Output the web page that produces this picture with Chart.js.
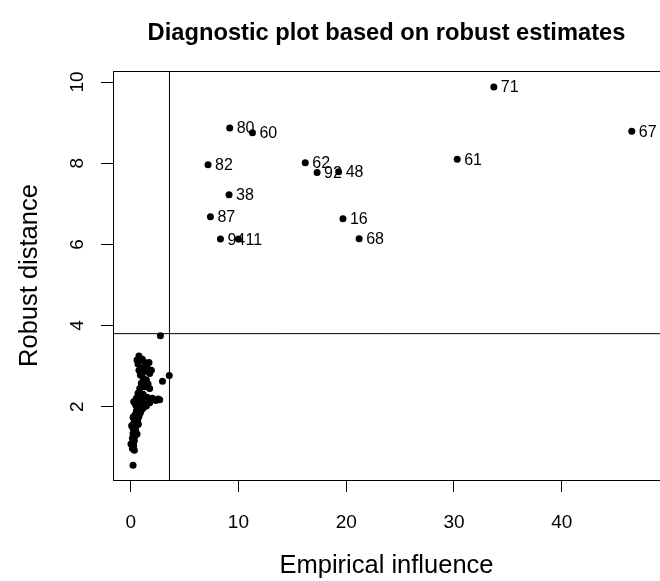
<!DOCTYPE html>
<html><head><meta charset="utf-8">
<script src="https://cdn.jsdelivr.net/npm/chart.js@4"></script>
<style>html,body{margin:0;padding:0;background:#fff;overflow:hidden}#wrap{width:660px;height:581px;position:relative;overflow:hidden}</style>
</head><body><div id="wrap"><canvas id="c" width="664" height="581"></canvas></div>
<script>
const FONT = "'Liberation Sans', Arial, Helvetica, sans-serif";

// Bulk of observations (empirical influence, robust distance)
const clusterInfluence = [0.77,1.08,0.68,1.30,1.70,0.99,1.52,1.92,1.21,1.76,0.77,
  3.58,2.95,
  1.15,1.46,0.99,1.61,1.30,0.84,1.76,0.68,1.15,0.53,0.99,1.52,2.01,2.54,2.32,1.76,1.30,0.84,0.46,
  0.68,1.15,0.53,0.90,0.40,0.77,0.34,0.65,0.28,0.53,0.22,0.46,0.22,0.40,0.16,0.34,0.22,0.28,0.16,
  0.22,
  0.59,1.39,0.90,1.30,0.77,0.28,2.69,1.46,0.99,0.59,0.22,0.71,0.09,0.59,0.03,0.34,
  2.76];
const clusterDistance = [3.25,3.17,3.05,3.09,3.09,2.95,2.97,2.90,2.86,2.82,2.90,
  2.77,2.63,
  2.70,2.66,2.58,2.56,2.49,2.45,2.45,2.33,2.31,2.21,2.18,2.23,2.21,2.19,2.15,2.10,2.08,2.07,2.04,
  1.98,1.96,1.90,1.85,1.80,1.76,1.69,1.66,1.59,1.53,1.47,1.41,1.34,1.28,1.22,1.16,1.10,1.03,0.97,
  0.56,
  3.15,3.00,2.78,2.62,2.26,2.12,2.17,2.02,1.92,1.82,1.74,1.57,1.53,1.33,1.08,0.93,
  3.75];

// Labelled outlying observations
const outlierIds       = ['71','67','61','62','92','48','16','68','80','60','82','38','87','94','11'];
const outlierInfluence = [33.7,46.5,30.3,16.2,17.3,19.3,19.7,21.2,9.19,11.3,7.18,9.13,7.40,8.33,10.0];
const outlierDistance  = [9.88,8.79,8.10,8.01,7.77,7.79,6.63,6.14,8.87,8.75,7.96,7.22,6.68,6.13,6.13];

const xTickValues = [0, 10, 20, 30, 40];
const yTickValues = [2, 4, 6, 8, 10];
const xRange = [-1.64, 49.12];
const yRange = [0.194, 10.271];
const distanceCutoff = 3.80;
const influenceCutoff = 3.60;

const pts = (xs, ys) => xs.map((x, i) => ({x: x, y: ys[i]}));

const boxTop = {
  id: 'boxTop',
  afterDraw(chart) {
    const a = chart.chartArea, ctx = chart.ctx;
    ctx.save();
    ctx.strokeStyle = '#000'; ctx.lineWidth = 1;
    ctx.beginPath();
    ctx.moveTo(a.left, Math.round(a.top) + 0.5);
    ctx.lineTo(a.right + 10, Math.round(a.top) + 0.5);
    ctx.stroke();
    ctx.restore();
  }
};

const pointLabels = {
  id: 'pointLabels',
  afterDatasetsDraw(chart) {
    const meta = chart.getDatasetMeta(1), ctx = chart.ctx;
    ctx.save();
    ctx.font = '16px ' + FONT;
    ctx.fillStyle = '#000';
    ctx.textAlign = 'left';
    ctx.textBaseline = 'middle';
    meta.data.forEach((el, i) => ctx.fillText(outlierIds[i], el.x + 7, el.y + 1));
    ctx.restore();
  }
};

new Chart(document.getElementById('c'), {
  type: 'scatter',
  data: {
    datasets: [
      {data: pts(clusterInfluence, clusterDistance), backgroundColor: '#000', borderWidth: 0, pointRadius: 3.5},
      {data: pts(outlierInfluence, outlierDistance), backgroundColor: '#000', borderWidth: 0, pointRadius: 3.5},
      {data: [{x: xRange[0], y: distanceCutoff}, {x: xRange[1], y: distanceCutoff}], showLine: true, borderColor: '#000', borderWidth: 1, pointRadius: 0},
      {data: [{x: influenceCutoff, y: yRange[0]}, {x: influenceCutoff, y: yRange[1]}], showLine: true, borderColor: '#000', borderWidth: 1, pointRadius: 0}
    ]
  },
  options: {
    responsive: false,
    animation: false,
    events: [],
    layout: {padding: 0},
    plugins: {
      legend: {display: false},
      tooltip: {enabled: false},
      title: {
        display: true, fullSize: false,
        text: 'Diagnostic plot based on robust estimates',
        color: '#000',
        font: {family: FONT, size: 23.7, weight: 'bold', lineHeight: 1.2},
        padding: {top: 19.5, bottom: 23.1}
      }
    },
    scales: {
      x: {
        type: 'linear', position: 'bottom',
        min: xRange[0], max: xRange[1],
        afterBuildTicks: s => { s.ticks = xTickValues.map(v => ({value: v})); },
        afterFit: s => { s.height = 101; },
        ticks: {color: '#000', font: {family: FONT, size: 19}, padding: 19, maxRotation: 0, autoSkip: false},
        grid: {drawOnChartArea: false, drawTicks: true, tickLength: 12, color: '#000', tickWidth: 1},
        border: {display: true, color: '#000', width: 1},
        title: {display: true, text: 'Empirical influence', color: '#000', font: {family: FONT, size: 25.5, lineHeight: 1.2}, padding: {top: 0, bottom: 0}}
      },
      y: {
        type: 'linear', position: 'left',
        min: yRange[0], max: yRange[1],
        afterBuildTicks: s => { s.ticks = yTickValues.map(v => ({value: v})); },
        afterFit: s => { s.width = 113; },
        ticks: {color: '#000', font: {family: FONT, size: 19}, padding: 12.9, minRotation: 90, maxRotation: 90, crossAlign: 'center', autoSkip: false},
        grid: {drawOnChartArea: false, drawTicks: true, tickLength: 12, color: '#000', tickWidth: 1},
        border: {display: true, color: '#000', width: 1},
        title: {display: true, text: 'Robust distance', color: '#000', font: {family: FONT, size: 25.5, lineHeight: 1.2}, padding: {top: 15, bottom: 0}}
      }
    }
  },
  plugins: [boxTop, pointLabels]
});
</script>
</body></html>
